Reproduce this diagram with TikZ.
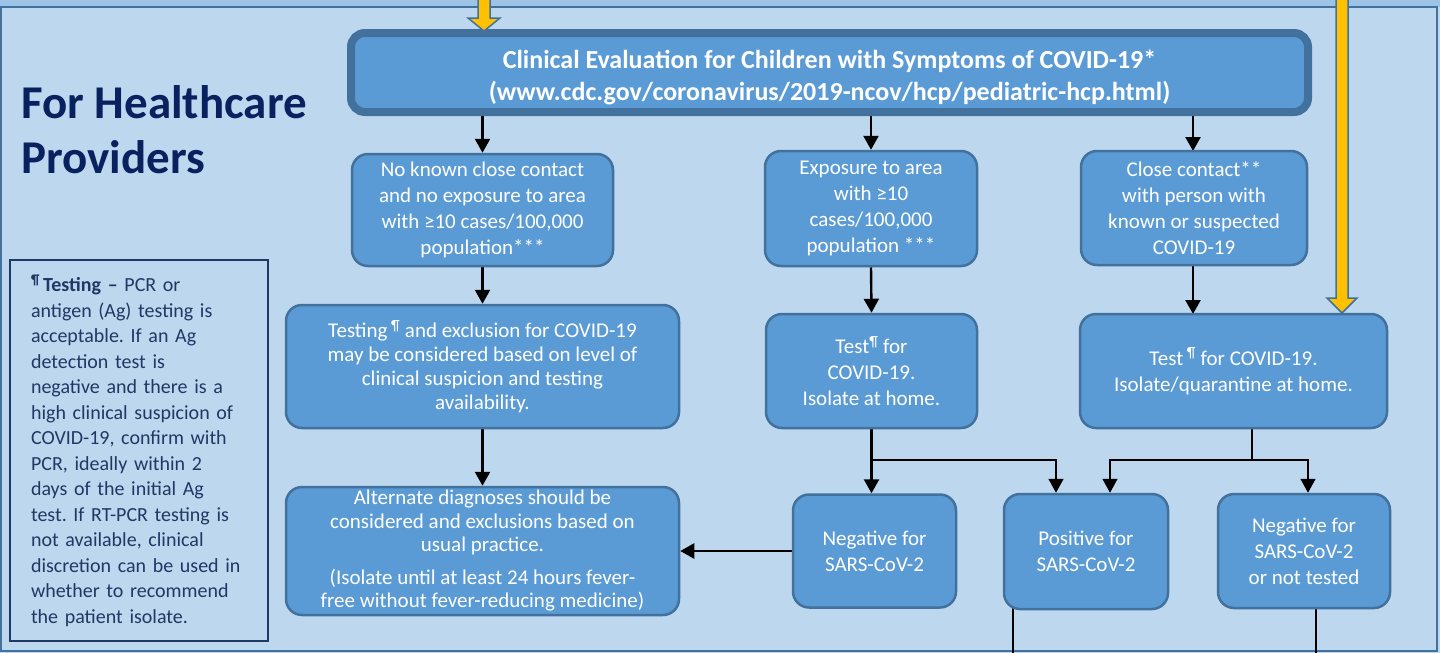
\documentclass[tikz,border=0pt]{standalone}
\usepackage{fontspec}
\setmainfont{Carlito}
\usetikzlibrary{arrows.meta,backgrounds}
\definecolor{bgblue}{HTML}{BDD7EE}
\definecolor{topblue}{HTML}{9DC3E6}
\definecolor{boxblue}{HTML}{5B9BD5}
\definecolor{edgeblue}{HTML}{41719C}
\definecolor{navy}{HTML}{0A2160}
\definecolor{notecol}{HTML}{203864}
\definecolor{gold}{HTML}{FFC000}
\frenchspacing
\begin{document}
\begin{tikzpicture}[x=1pt,y=-1pt,
  flowbox/.style={rounded corners=16pt, fill=boxblue, draw=edgeblue, line width=2.5pt,
    text=white, align=center, inner sep=0pt, font=\fontsize{21}{26}\selectfont},
  arr/.style={draw=black, line width=2.4pt, -{Triangle[width=15pt,length=14pt]}},
  thinarr/.style={draw=black, line width=1.5pt, -{Triangle[width=15pt,length=14pt]}},
  thinline/.style={draw=black, line width=1.5pt},
  yellowarrow/.style={fill=gold, draw=edgeblue, line width=1.5pt, line join=miter}]
\useasboundingbox (0,0) rectangle (1440,653);

% heading
\node[anchor=base west, inner sep=0pt, text=navy, align=left,
  font=\bfseries\fontsize{47}{55}\selectfont] (head) at (21,173) {For Healthcare\\Providers};

% testing note
\node[draw=notecol, line width=1.8pt, text=notecol, align=left, text width=216pt,
  inner xsep=21pt, inner ysep=0pt, minimum height=381pt,
  font=\fontsize{20}{25.5}\selectfont] (note) at (139,450.5)
  {\textsuperscript{\textbf{¶}}\,\textbf{Testing –} PCR or\\
   antigen (Ag) testing is\\
   acceptable. If an Ag\\
   detection test is\\
   negative and there is a\\
   high clinical suspicion of\\
   COVID-19, confirm with\\
   PCR, ideally within 2\\
   days of the initial Ag\\
   test. If RT-PCR testing is\\
   not available, clinical\\
   discretion can be used in\\
   whether to recommend\\
   the patient isolate.};

% title
\node[flowbox, rounded corners=14pt, line width=8pt, minimum width=957pt, minimum height=79pt,
  font=\bfseries\fontsize{26}{32}\selectfont] (title) at (829.5,72.5)
  {\rule{0pt}{28pt}Clinical Evaluation for Children with Symptoms of COVID-19*\\
   (www.cdc.gov/coronavirus/2019-ncov/hcp/pediatric-hcp.html)};

% boxes
\node[flowbox, minimum width=261pt, minimum height=112pt] (b1) at (482.5,210)
  {No known close contact\\and no exposure to area\\with ≥10 cases/100,000\\population***};
\node[flowbox, minimum width=212pt, minimum height=115pt] (b2) at (871,208.5)
  {Exposure to area\\with ≥10\\cases/100,000\\population ***};
\node[flowbox, minimum width=226pt, minimum height=114pt] (b3) at (1194,208)
  {Close contact**\\with person with\\known or suspected\\COVID-19};
\node[flowbox, minimum width=393pt, minimum height=123pt,
  font=\fontsize{21}{24}\selectfont] (b4) at (482.5,366.5)
  {Testing\,\textsuperscript{¶} and exclusion for COVID-19\\may be considered based on level of\\clinical suspicion and testing\\availability.};
\node[flowbox, minimum width=211pt, minimum height=114pt] (b5) at (871.5,371)
  {Test\textsuperscript{¶} for\\COVID-19.\\Isolate at home.};
\node[flowbox, minimum width=307pt, minimum height=114pt] (b6) at (1233.5,371)
  {Test\,\textsuperscript{¶} for COVID-19.\\Isolate/quarantine at home.};
\node[flowbox, minimum width=393pt, minimum height=128pt,
  font=\fontsize{21}{23.5}\selectfont] (b7) at (482.5,551)
  {Alternate diagnoses should be\\considered and exclusions based on\\usual practice.\\[9pt]
   (Isolate until at least 24 hours fever-\\free without fever-reducing medicine)};
\node[flowbox, minimum width=163pt, minimum height=113pt] (b8) at (874.5,551)
  {Negative for\\SARS-CoV-2};
\node[flowbox, minimum width=164pt, minimum height=115pt] (b9) at (1086,551.5)
  {Positive for\\SARS-CoV-2};
\node[flowbox, minimum width=172pt, minimum height=114pt] (b10) at (1304,551)
  {Negative for\\SARS-CoV-2\\or not tested};

% junction and free-end coordinates
\coordinate (j5) at (871,460);
\coordinate (j5r) at (1056,460);
\coordinate (j6) at (1252,460);
\coordinate (j6l) at (1110,460);
\coordinate (j6r) at (1308,460);
\coordinate (e9) at (1013,653);
\coordinate (e10) at (1316,653);

\begin{scope}[on background layer]
\fill[bgblue] (0,7) rectangle (1440,653);
\fill[topblue] (0,0) rectangle (1440,7);
\draw[edgeblue, line width=2pt] (1,7) rectangle (1437,651);
% connectors
\draw[arr] (b1.north |- title.south) -- (b1.north);
\draw[arr] (b2.north |- title.south) -- (b2.north);
\draw[arr] (1193,116) -- (1193,151);
\draw[arr] (b1.south) -- (b4.north);
\draw[arr] (b2.south) -- (b5.north);
\draw[arr] (1193,265) -- (1193,314);
\draw[arr] (b4.south) -- (b7.north);
\draw[arr] (b5.south) -- (b5.south |- b8.north);
\draw[thinarr] (j5) -| (j5r |- b9.north);
\draw[thinline] (j6 |- b6.south) -- (j6);
\draw[thinarr] (j6) -- (j6l) -- (j6l |- b9.north);
\draw[thinarr] (j6) -- (j6r) -- (j6r |- b10.north);
\draw[arr] (b8.west) -- (b8.west -| b7.east);
\draw[line width=2pt] (e9 |- b9.south) ++(0,-6) -- (e9);
\draw[line width=2pt] (e10 |- b10.south) ++(0,-6) -- (e10);
\end{scope}

% yellow arrows from the panel above
\draw[yellowarrow] (478,-3) -- (478,18) -- (468,18) -- (484,31) -- (500,18) -- (490,18) -- (490,-3);
\draw[yellowarrow] (1336,-3) -- (1336,298) -- (1327,298) -- (1342,313) -- (1357,298) -- (1348,298) -- (1348,-3);
\end{tikzpicture}
\end{document}
